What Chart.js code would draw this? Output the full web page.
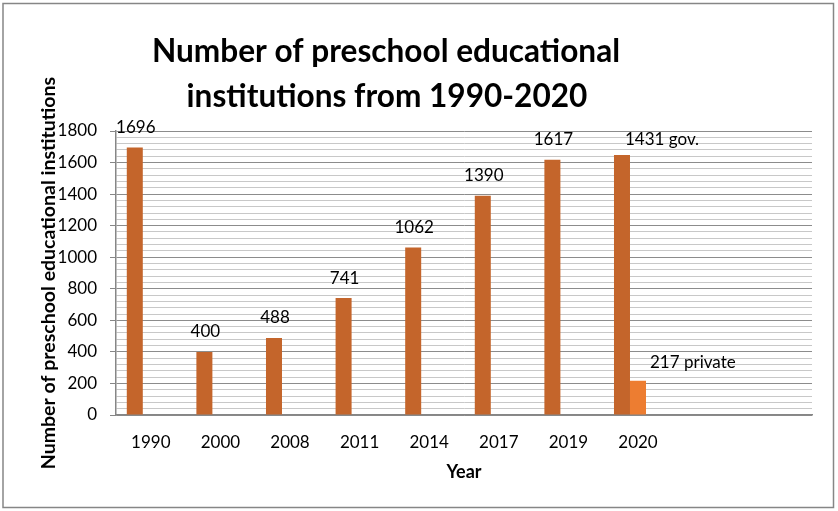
<!DOCTYPE html>
<html>
<head>
<meta charset="utf-8">
<script src="https://cdn.jsdelivr.net/npm/chart.js@4/dist/chart.umd.min.js"></script>
<style>
  html, body { margin: 0; padding: 0; background: #fff; }
  #wrap { width: 838px; height: 511px; position: relative; }
</style>
</head>
<body>
<div id="wrap"><canvas id="chart"></canvas></div>
<script>
const years = ['1990', '2000', '2008', '2011', '2014', '2017', '2019', '2020', '', '']
const govValues = [1696, 400, 488, 741, 1062, 1390, 1617, 1648, null, null]
const privateValues = [null, null, null, null, null, null, null, 217, null, null]
const govLabels = ['1696', '400', '488', '741', '1062', '1390', '1617', '1431 gov.', '', '']
const privateLabels = ['', '', '', '', '', '', '', '217 private', '', '']
const titleLines = ['Number of preschool educational', 'institutions from 1990-2020']

const FONT = 'Lato'

// frame + white background
const framePlugin = {
  id: 'frame',
  beforeDraw(chart) {
    const ctx = chart.ctx
    ctx.save()
    ctx.fillStyle = '#fff'
    ctx.fillRect(0, 0, chart.width, chart.height)
    ctx.strokeStyle = '#868686'
    ctx.lineWidth = 1.5
    ctx.strokeRect(3, 3.5, 830.5, 504)
    ctx.restore()
  }
}

// title drawn a bit left of center like the original
const titlePlugin = {
  id: 'bigTitle',
  afterDraw(chart) {
    const ctx = chart.ctx
    ctx.save()
    ctx.fillStyle = '#000'
    ctx.font = 'bold 31.6px ' + FONT
    ctx.textAlign = 'center'
    ctx.textBaseline = 'alphabetic'
    ctx.fillText(titleLines[0], 386, 62)
    ctx.fillText(titleLines[1], 387, 107)
    ctx.restore()
  }
}

// value labels above bars
const valueLabels = {
  id: 'valueLabels',
  afterDatasetsDraw(chart) {
    const ctx = chart.ctx
    ctx.save()
    ctx.fillStyle = '#000'
    ctx.font = '17px ' + FONT
    ctx.textBaseline = 'middle'
    const gov = chart.getDatasetMeta(0).data
    const priv = chart.getDatasetMeta(1).data
    gov.forEach((bar, i) => {
      const txt = govLabels[i]
      if (!txt) return
      if (i === 7) {
        ctx.textAlign = 'left'
        ctx.fillText(txt, bar.x + 3, bar.y - 15)
      } else {
        ctx.textAlign = 'center'
        ctx.fillText(txt, bar.x + 1, bar.y - 20)
      }
    })
    priv.forEach((bar, i) => {
      const txt = privateLabels[i]
      if (!txt) return
      ctx.textAlign = 'left'
      ctx.fillText(txt, bar.x + 12, bar.y - 18)
    })
    ctx.restore()
  }
}

new Chart(document.getElementById('chart'), {
  type: 'bar',
  data: {
    labels: years,
    datasets: [
      {
        label: 'gov.',
        data: govValues,
        backgroundColor: '#C4652B',
        categoryPercentage: 0.69,
        barPercentage: 1,
      },
      {
        label: 'private',
        data: privateValues,
        backgroundColor: '#ED7D31',
        categoryPercentage: 0.69,
        barPercentage: 1,
      },
      {
        label: 'spacer',
        data: years.map(() => null),
        backgroundColor: 'transparent',
        categoryPercentage: 0.69,
        barPercentage: 1,
      },
    ]
  },
  options: {
    responsive: true,
    maintainAspectRatio: false,
    animation: false,
    layout: {
      padding: {top: 131, right: 26, bottom: 16, left: 20},
    },
    plugins: {
      legend: {display: false},
      tooltip: {enabled: false},
    },
    scales: {
      x: {
        afterFit: (s) => { s.height = 80 },
        grid: {display: false},
        border: {display: true, color: '#868686', width: 1.5},
        ticks: {
          color: '#000',
          font: {family: FONT, size: 17},
          padding: 9,
          maxRotation: 0,
          autoSkip: false,
        },
        title: {
          display: true,
          text: 'Year',
          color: '#000',
          font: {family: FONT, size: 18, weight: 'bold'},
          padding: {top: 0, bottom: 12},
        },
      },
      y: {
        min: 0,
        max: 1800,
        afterFit: (s) => { s.width = 96 },
        grid: {
          color: (c) => c.tick && c.tick.value % 200 === 0 ? '#8C8C8C' : '#C8C8C8',
          tickColor: (c) => c.tick && c.tick.value % 200 === 0 ? '#868686' : 'transparent',
          tickLength: 6,
        },
        border: {display: true, color: '#868686', width: 1.5},
        ticks: {
          stepSize: 40,
          autoSkip: false,
          color: '#000',
          font: {family: FONT, size: 17},
          padding: 13,
          callback: (v) => v % 200 === 0 ? v : '',
        },
        title: {
          display: true,
          text: 'Number of preschool educational institutions',
          color: '#000',
          font: {family: FONT, size: 19.5, weight: 'bold'},
          padding: {top: 17, bottom: 0},
        },
      },
    },
  },
  plugins: [framePlugin, titlePlugin, valueLabels],
})
</script>
</body>
</html>
